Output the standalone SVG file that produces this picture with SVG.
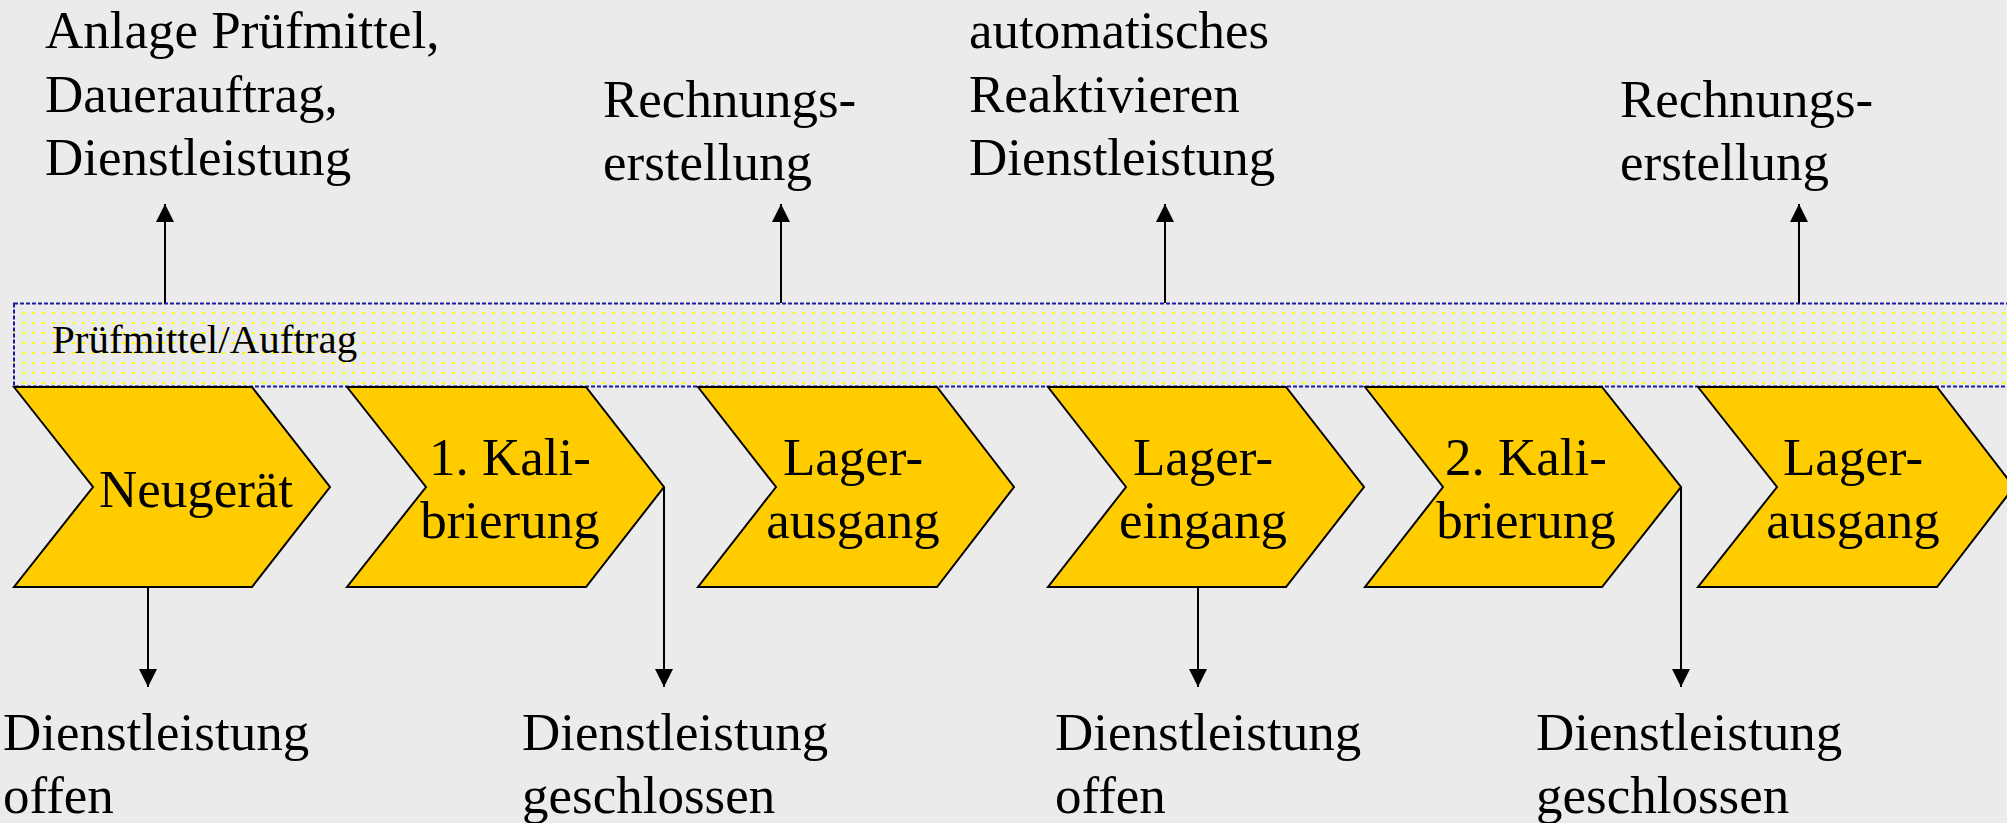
<svg xmlns="http://www.w3.org/2000/svg" width="2007" height="823" viewBox="0 0 2007 823">
<style>
  .t { font-family: "Liberation Serif", "Times New Roman", serif; font-size: 53px; fill: #000; }
  .c { text-anchor: middle; }
  .band-t { font-family: "Liberation Serif", "Times New Roman", serif; font-size: 41px; fill: #000; }
  .chev { fill: #FFCC00; stroke: #000; stroke-width: 2; stroke-linejoin: miter; }
  .conn { stroke: #000; stroke-width: 2; fill: none; }
</style>
<defs>
  <pattern id="dots" patternUnits="userSpaceOnUse" x="0" y="0" width="10" height="10">
    <rect x="2" y="2" width="3" height="2" fill="#FFFF00"/>
  </pattern>
  <marker id="ah" markerUnits="userSpaceOnUse" markerWidth="18" markerHeight="18" viewBox="0 0 17 17" refX="17" refY="8.5" orient="auto">
    <path d="M0,0 L17,8.5 L0,17 Z" fill="#000"/>
  </marker>
</defs>
<rect x="0" y="0" width="2007" height="823" fill="#EBEBEB"/>

<g id="band">
  <rect x="14" y="303.5" width="2010" height="83" fill="#EBEBEB"/>
  <rect x="14" y="303.5" width="2010" height="83" fill="url(#dots)" stroke="#1C1CA0" stroke-width="2" stroke-dasharray="4 2"/>
  <text class="band-t" x="52" y="353">Prüfmittel/Auftrag</text>
</g>

<g id="connectors">
  <line class="conn" x1="165" y1="303" x2="165" y2="204" marker-end="url(#ah)"/>
  <line class="conn" x1="781" y1="303" x2="781" y2="204" marker-end="url(#ah)"/>
  <line class="conn" x1="1165" y1="303" x2="1165" y2="204" marker-end="url(#ah)"/>
  <line class="conn" x1="1799" y1="303" x2="1799" y2="204" marker-end="url(#ah)"/>
  <line class="conn" x1="148" y1="587" x2="148" y2="687" marker-end="url(#ah)"/>
  <line class="conn" x1="664" y1="487" x2="664" y2="687" marker-end="url(#ah)"/>
  <line class="conn" x1="1198" y1="587" x2="1198" y2="687" marker-end="url(#ah)"/>
  <line class="conn" x1="1681" y1="487" x2="1681" y2="687" marker-end="url(#ah)"/>
</g>

<g id="neugeraet">
  <polygon class="chev" points="14,387 93,487 14,587 252,587 330,487 252,387"/>
  <text class="t c" x="196" y="507">Neugerät</text>
</g>
<g id="kalibrierung1">
  <polygon class="chev" points="347,387 426,487 347,587 586,587 664,487 586,387"/>
  <text class="t c" x="510" y="475">1. Kali-</text>
  <text class="t c" x="510" y="538">brierung</text>
</g>
<g id="lagerausgang1">
  <polygon class="chev" points="698,387 776,487 698,587 937,587 1014,487 937,387"/>
  <text class="t c" x="853" y="475">Lager-</text>
  <text class="t c" x="853" y="538">ausgang</text>
</g>
<g id="lagereingang">
  <polygon class="chev" points="1048,387 1126,487 1048,587 1286,587 1364,487 1286,387"/>
  <text class="t c" x="1203" y="475">Lager-</text>
  <text class="t c" x="1203" y="538">eingang</text>
</g>
<g id="kalibrierung2">
  <polygon class="chev" points="1365,387 1443,487 1365,587 1602,587 1681,487 1602,387"/>
  <text class="t c" x="1526" y="475">2. Kali-</text>
  <text class="t c" x="1526" y="538">brierung</text>
</g>
<g id="lagerausgang2">
  <polygon class="chev" points="1698,387 1777,487 1698,587 1937,587 2014,487 1937,387"/>
  <text class="t c" x="1853" y="475">Lager-</text>
  <text class="t c" x="1853" y="538">ausgang</text>
</g>

<g id="label-anlage">
  <text class="t" x="45" y="48">Anlage Prüfmittel,</text>
  <text class="t" x="45" y="112">Dauerauftrag,</text>
  <text class="t" x="45" y="175">Dienstleistung</text>
</g>
<g id="label-rechnung1">
  <text class="t" x="603" y="117">Rechnungs-</text>
  <text class="t" x="603" y="180">erstellung</text>
</g>
<g id="label-reaktivieren">
  <text class="t" x="969" y="48">automatisches</text>
  <text class="t" x="969" y="112">Reaktivieren</text>
  <text class="t" x="969" y="175">Dienstleistung</text>
</g>
<g id="label-rechnung2">
  <text class="t" x="1620" y="117">Rechnungs-</text>
  <text class="t" x="1620" y="180">erstellung</text>
</g>
<g id="label-offen1">
  <text class="t" x="3" y="750">Dienstleistung</text>
  <text class="t" x="3" y="813">offen</text>
</g>
<g id="label-geschlossen1">
  <text class="t" x="522" y="750">Dienstleistung</text>
  <text class="t" x="522" y="813">geschlossen</text>
</g>
<g id="label-offen2">
  <text class="t" x="1055" y="750">Dienstleistung</text>
  <text class="t" x="1055" y="813">offen</text>
</g>
<g id="label-geschlossen2">
  <text class="t" x="1536" y="750">Dienstleistung</text>
  <text class="t" x="1536" y="813">geschlossen</text>
</g>
</svg>
